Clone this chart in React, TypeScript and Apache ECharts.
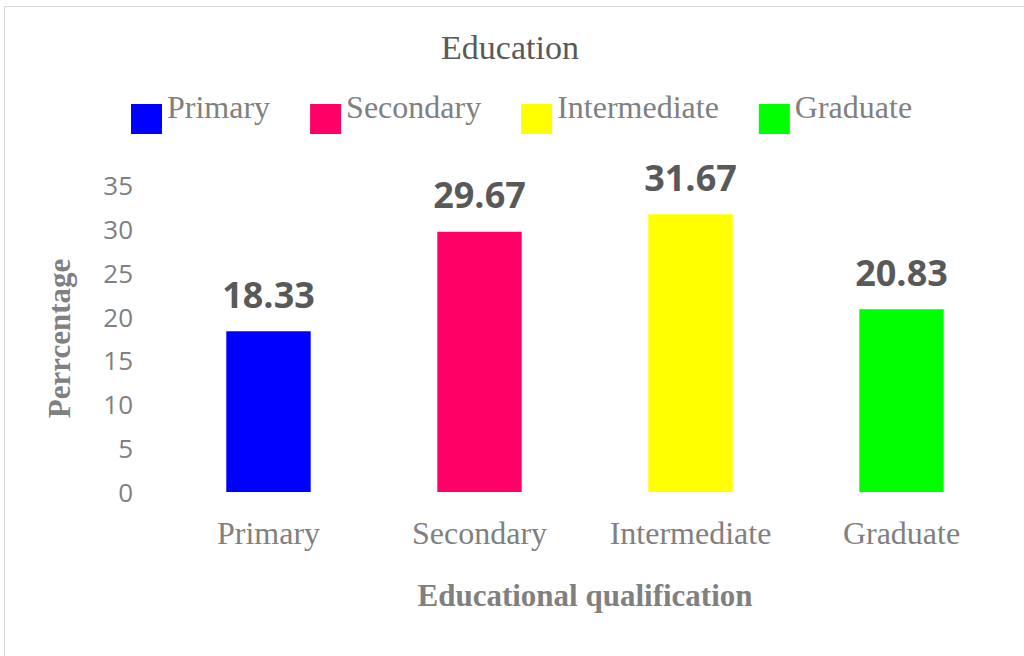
import React, { useEffect, useRef } from "react";
import * as echarts from "echarts";

const categories = ["Primary", "Secondary", "Intermediate", "Graduate"];
const values = [18.33, 29.67, 31.67, 20.83];
const colors = ["#0000FF", "#FF0066", "#FFFF00", "#00FF00"];
const yTicks = [0, 5, 10, 15, 20, 25, 30, 35];

export default function App() {
  const ref = useRef<HTMLDivElement>(null);
  useEffect(() => {
    if (!ref.current) return;
    const chart = echarts.init(ref.current, null, { renderer: "svg" });
    const serif = "'Liberation Serif', 'Times New Roman', serif";
    const sans = "'Open Sans', 'Liberation Sans', sans-serif";
    const series = categories.map((name, i) => ({
      name,
      type: "bar",
      barWidth: "40%",
      barGap: "-100%",
      itemStyle: { color: colors[i] },
      data: categories.map((_, j) => (j === i ? values[i] : "-")),
      label: {
        show: true,
        position: "top",
        distance: 19,
        fontFamily: sans,
        fontWeight: "bold",
        fontSize: 36,
        color: "#595959",
        formatter: (p: any) => Number(p.value).toFixed(2),
      },
    }));
    chart.setOption({
      animation: false,
      backgroundColor: "#ffffff",
      title: {
        text: "Education",
        left: 505,
        top: 25,
        textAlign: "center",
        textStyle: { fontFamily: serif, fontWeight: "normal", fontSize: 34, color: "#595959" },
      },
      legend: {
        data: categories,
        left: 131,
        top: 80,
        padding: 0,
        icon: "path://M0,0L1,0Z M0,24L31,24L31,54L0,54Z",
        itemWidth: 31,
        itemHeight: 54,
        itemGap: 40,
        textStyle: {
          fontFamily: serif,
          fontSize: 32,
          color: "#808080",
        },
      },
      graphic: [
        {
          type: "rect",
          shape: { x: 4.5, y: 6.5, width: 1100, height: 700 },
          style: { fill: "none", stroke: "#d9d9d9", lineWidth: 1 },
          silent: true,
        },
      ],
      grid: { left: 163, right: 17, top: 185, bottom: 164 },
      xAxis: {
        type: "category",
        data: categories,
        axisLine: { show: false },
        axisTick: { show: false },
        axisLabel: { fontFamily: serif, fontSize: 32, color: "#808080", margin: 25 },
        name: "Educational qualification",
        nameLocation: "middle",
        nameGap: 88,
        nameTextStyle: { fontFamily: serif, fontWeight: "bold", fontSize: 31, color: "#808080" },
      },
      yAxis: {
        type: "value",
        min: yTicks[0],
        max: yTicks[yTicks.length - 1],
        interval: 5,
        splitLine: { show: false },
        axisLine: { show: false },
        axisTick: { show: false },
        axisLabel: { fontFamily: sans, fontSize: 26, color: "#808080", margin: 30 },
        name: "Perrcentage",
        nameLocation: "middle",
        nameGap: 88,
        nameTextStyle: { fontFamily: serif, fontWeight: "bold", fontSize: 31, color: "#808080" },
      },
      series,
    });
    return () => chart.dispose();
  }, []);
  return (
    <div
      ref={ref}
      style={{ position: "absolute", left: 0, top: 0, width: 1024, height: 656 }}
    />
  );
}
